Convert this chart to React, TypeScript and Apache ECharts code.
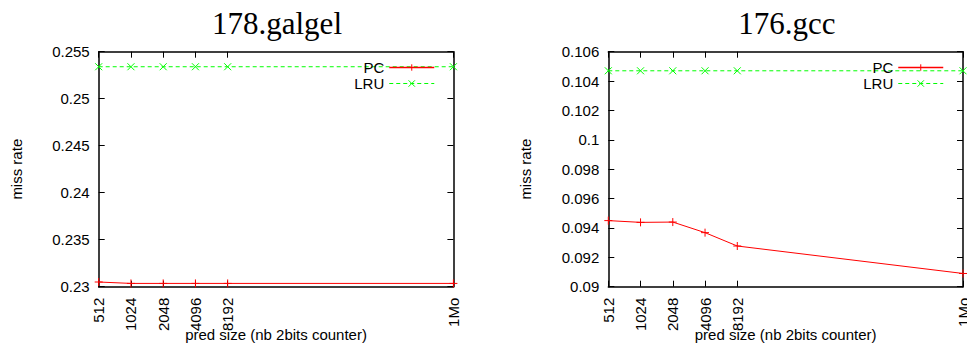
import React, { useEffect, useRef } from "react";
import * as echarts from "echarts";

const predSizes = [512, 1024, 2048, 4096, 8192, 1048576];
const sizeLabels = ["512", "1024", "2048", "4096", "8192", "1Mo"];
const titles = ["178.galgel", "176.gcc"];
const seriesNames = ["PC", "LRU"];

const galgelPC = [0.2305, 0.23035, 0.23035, 0.23035, 0.23035, 0.23035];
const galgelLRU = [0.2534, 0.2534, 0.2534, 0.2534, 0.2534, 0.2534];
const gccPC = [0.0945, 0.09438, 0.0944, 0.09368, 0.09277, 0.0909];
const gccLRU = [0.1047, 0.1047, 0.1047, 0.1047, 0.1047, 0.1047];

// [min, max, interval]
const galgelY = [0.23, 0.255, 0.005];
const gccY = [0.09, 0.106, 0.002];

const xName = "pred size (nb 2bits counter)";
const yName = "miss rate";

const W = 967;
const H = 343;
const SANS = "Liberation Sans";
const SERIF = "Liberation Serif";
const FS = 15;
const RED = "#ff0000";
const GREEN = "#00ff00";

const panels = [
  { title: titles[0], pc: galgelPC, lru: galgelLRU, y: galgelY, left: 98.7, titleX: 277, legendRight: 435 },
  { title: titles[1], pc: gccPC, lru: gccLRU, y: gccY, left: 608.3, titleX: 787, legendRight: 944 },
];

const PLOT_TOP = 51.7;
const PLOT_W = 354.7;
const PLOT_H = 235;

const pcSymbol = "path://M5,0L5,10M0,5L10,5";
const lruSymbol = "path://M0,0L10,10M10,0L0,10";

function buildOption() {
  const xVals = predSizes.map((s) => Math.log2(s));
  const labelFor = (v: number) => {
    const i = xVals.findIndex((x) => Math.abs(x - v) < 1e-6);
    return i >= 0 ? sizeLabels[i] : "";
  };
  const grid: any[] = [];
  const xAxis: any[] = [];
  const yAxis: any[] = [];
  const series: any[] = [];
  const legend: any[] = [];
  const graphic: any[] = [];
  const axisLine = { show: true, onZero: false, lineStyle: { color: "#000", width: 1.5 } };
  const tickStyle = { color: "#000", width: 1 };

  panels.forEach((p, i) => {
    grid.push({
      left: p.left,
      top: PLOT_TOP,
      width: PLOT_W,
      height: PLOT_H,
      containLabel: false,
      outerBoundsMode: "none",
    });
    xAxis.push({
      type: "value",
      gridIndex: i,
      position: "bottom",
      min: xVals[0],
      max: xVals[xVals.length - 1],
      axisLine,
      axisTick: { show: true, inside: true, length: 6, customValues: xVals, lineStyle: tickStyle },
      axisLabel: {
        customValues: xVals,
        rotate: 90,
        margin: 11,
        formatter: (v: number) => labelFor(v),
        fontFamily: SANS,
        fontSize: FS,
        color: "#000",
      },
      splitLine: { show: false },
      name: xName,
      nameLocation: "middle",
      nameGap: 40,
      nameMoveOverlap: false,
      nameTextStyle: { fontFamily: SANS, fontSize: FS, color: "#000" },
    });
    xAxis.push({
      type: "value",
      gridIndex: i,
      position: "top",
      min: xVals[0],
      max: xVals[xVals.length - 1],
      axisLine,
      axisTick: { show: true, inside: true, length: 6, customValues: xVals, lineStyle: tickStyle },
      axisLabel: { show: false },
      splitLine: { show: false },
    });
    yAxis.push({
      type: "value",
      gridIndex: i,
      position: "left",
      min: p.y[0],
      max: p.y[1],
      interval: p.y[2],
      axisLine,
      axisTick: { show: true, inside: true, length: 6, lineStyle: tickStyle },
      axisLabel: { margin: 9, fontFamily: SANS, fontSize: FS, color: "#000" },
      splitLine: { show: false },
      name: yName,
      nameLocation: "middle",
      nameGap: 75,
      nameMoveOverlap: false,
      nameTextStyle: { fontFamily: SANS, fontSize: FS, color: "#000" },
    });
    yAxis.push({
      type: "value",
      gridIndex: i,
      position: "right",
      min: p.y[0],
      max: p.y[1],
      interval: p.y[2],
      axisLine,
      axisTick: { show: true, inside: true, length: 6, lineStyle: tickStyle },
      axisLabel: { show: false },
      splitLine: { show: false },
    });
    series.push({
      type: "line",
      name: seriesNames[1],
      xAxisIndex: 2 * i,
      yAxisIndex: 2 * i,
      data: xVals.map((x, k) => [x, p.lru[k]]),
      symbol: lruSymbol,
      symbolSize: 7,
      showAllSymbol: true,
      clip: false,
      lineStyle: { color: GREEN, width: 1, type: [4, 3] },
      itemStyle: { color: GREEN, borderColor: GREEN, borderWidth: 1 },
      emphasis: { disabled: true },
      z: 2,
    });
    series.push({
      type: "line",
      name: seriesNames[0],
      xAxisIndex: 2 * i,
      yAxisIndex: 2 * i,
      data: xVals.map((x, k) => [x, p.pc[k]]),
      symbol: pcSymbol,
      symbolSize: 8,
      showAllSymbol: true,
      clip: false,
      lineStyle: { color: RED, width: 1 },
      itemStyle: { color: RED, borderColor: RED, borderWidth: 1 },
      emphasis: { disabled: true },
      z: 2,
    });
    legend.push({
      data: [
        { name: seriesNames[0], lineStyle: { color: RED, width: 1.5 }, itemStyle: { color: RED, borderColor: RED, borderWidth: 1 } },
        { name: seriesNames[1], lineStyle: { color: GREEN, width: 1 }, itemStyle: { color: GREEN, borderColor: GREEN, borderWidth: 1 } },
      ],
      orient: "vertical",
      align: "right",
      right: W - p.legendRight,
      top: 60,
      padding: 0,
      itemWidth: 45,
      itemHeight: 8,
      itemGap: 1,
      selectedMode: false,
      z: 5,
      textStyle: { fontFamily: SANS, fontSize: FS, color: "#000", lineHeight: 14 },
    });
    graphic.push({
      type: "text",
      x: p.titleX,
      y: 23,
      style: {
        text: p.title,
        fontFamily: SERIF,
        fontSize: 31,
        fill: "#000",
        align: "center",
        verticalAlign: "middle",
      },
    });
  });

  return {
    animation: false,
    backgroundColor: "#fff",
    grid,
    xAxis,
    yAxis,
    series,
    legend,
    graphic,
  };
}

export default function App() {
  const ref = useRef<HTMLDivElement>(null);
  useEffect(() => {
    if (!ref.current) return;
    const chart = echarts.init(ref.current, undefined, { renderer: "svg" });
    chart.setOption(buildOption() as any);
    return () => chart.dispose();
  }, []);
  return (
    <div
      ref={ref}
      style={{ position: "absolute", left: 0, top: 0, width: W, height: H, background: "#fff" }}
    />
  );
}
